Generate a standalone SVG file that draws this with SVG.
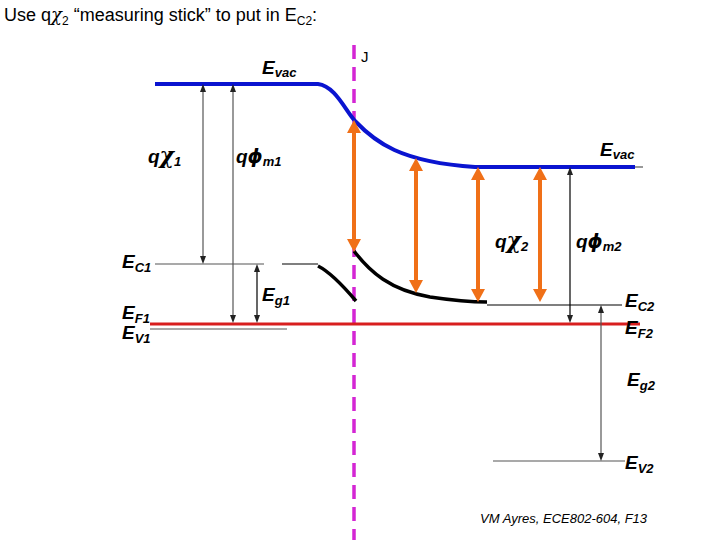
<svg xmlns="http://www.w3.org/2000/svg" width="720" height="540" viewBox="0 0 720 540">
<style>
text{font-family:"Liberation Sans",Arial,sans-serif;fill:#000}
.lab{font-size:19px;font-weight:bold;font-style:italic}
.sub{font-size:13px;font-weight:bold;font-style:italic}
.gr{font-family:"DejaVu Serif",serif;font-size:22px}
.thin{stroke:#555;stroke-width:1.2;fill:none}
.blk{stroke:#000;stroke-width:1.2;fill:none}
.org{stroke:#f07018;stroke-width:4;fill:none;marker-start:url(#oa);marker-end:url(#oa)}
.ga{marker-start:url(#ga);marker-end:url(#ga)}
</style>
<defs>
<marker id="oa" markerUnits="userSpaceOnUse" viewBox="0 0 13 14" markerWidth="13" markerHeight="14" refX="4" refY="7" orient="auto-start-reverse"><path d="M0,0 L13,7 L0,14 z" fill="#f07018"/></marker>
<marker id="ga" markerUnits="userSpaceOnUse" viewBox="0 0 8 6" markerWidth="8" markerHeight="6" refX="2" refY="3" orient="auto-start-reverse"><path d="M0,0 L8,3 L0,6 z" fill="#222"/></marker>
</defs>
<rect width="720" height="540" fill="#fff"/>
<text x="4" y="21" font-size="18">Use q<tspan font-family="'DejaVu Serif',serif" font-style="italic">χ</tspan><tspan font-size="12" dy="4">2</tspan><tspan dy="-4"> “measuring stick” to put in E</tspan><tspan font-size="12" dy="4">C2</tspan><tspan dy="-4">:</tspan></text>

<g id="junction">
<line x1="354" y1="45" x2="354" y2="540" stroke="#d426d4" stroke-width="3.5" stroke-dasharray="14,8"/>
<text x="361" y="62" font-size="15">J</text>
</g>

<g id="levels">
<line x1="150" y1="329" x2="287" y2="329" class="thin"/>
<line x1="155" y1="264" x2="264" y2="264" class="thin"/>
<line x1="282" y1="264" x2="318" y2="264" class="blk"/>
<path d="M318,266 C330,272 345,288 356,301" stroke="#000" stroke-width="3.5" fill="none"/>
<path d="M354,251 C370,272 390,290 430,297 C450,300 465,302 487,302" stroke="#000" stroke-width="3.5" fill="none"/>
<line x1="487" y1="305" x2="622" y2="305" class="blk"/>
<line x1="493" y1="461" x2="625" y2="461" class="thin"/>
<line x1="150" y1="324" x2="640" y2="324" stroke="#d81e1e" stroke-width="3"/>
<line x1="634" y1="167" x2="643" y2="167" class="thin"/>
<path d="M155,84 L318,84 C335,86 345,110 355,121 C375,142 400,162 475,167 L635,167" stroke="#0a14d0" stroke-width="4" fill="none"/>
</g>

<g id="connectors">
<line x1="203" y1="90" x2="203" y2="258" class="thin ga"/>
<line x1="233" y1="90" x2="233" y2="317" class="thin ga"/>
<line x1="257" y1="270" x2="257" y2="317" class="blk ga"/>
<line x1="570" y1="173" x2="570" y2="317" class="blk ga"/>
<line x1="601" y1="311" x2="601" y2="455" class="thin ga"/>
<line x1="354" y1="129" x2="354" y2="243" class="org"/>
<line x1="416" y1="167" x2="416" y2="284" class="org"/>
<line x1="478" y1="176" x2="478" y2="293" class="org"/>
<line x1="540" y1="176" x2="540" y2="293" class="org"/>
</g>

<g id="labels">
<text x="262" y="74" class="lab">E<tspan class="sub" dy="3">vac</tspan></text>
<text x="600" y="156" class="lab">E<tspan class="sub" dy="3">vac</tspan></text>
<text x="148" y="163" class="lab">q<tspan class="gr">χ</tspan><tspan class="sub" dy="3">1</tspan></text>
<text x="236" y="163" class="lab">q<tspan font-family="'DejaVu Sans',sans-serif">ϕ</tspan><tspan class="sub" dy="3">m1</tspan></text>
<text x="495" y="248" class="lab">q<tspan class="gr">χ</tspan><tspan class="sub" dy="3">2</tspan></text>
<text x="576" y="248" class="lab">q<tspan font-family="'DejaVu Sans',sans-serif">ϕ</tspan><tspan class="sub" dy="3">m2</tspan></text>
<text x="122" y="268" class="lab">E<tspan class="sub" dy="4">C1</tspan></text>
<text x="262" y="301" class="lab">E<tspan class="sub" dy="4">g1</tspan></text>
<text x="122" y="319" class="lab">E<tspan class="sub" dy="4">F1</tspan></text>
<text x="122" y="339" class="lab">E<tspan class="sub" dy="4">V1</tspan></text>
<text x="625" y="307" class="lab">E<tspan class="sub" dy="4">C2</tspan></text>
<text x="625" y="334" class="lab">E<tspan class="sub" dy="4">F2</tspan></text>
<text x="627" y="386" class="lab">E<tspan class="sub" dy="4">g2</tspan></text>
<text x="625" y="469" class="lab">E<tspan class="sub" dy="4">V2</tspan></text>
<text x="480" y="523" font-size="13" font-style="italic">VM Ayres, ECE802-604, F13</text>
</g>
</svg>
